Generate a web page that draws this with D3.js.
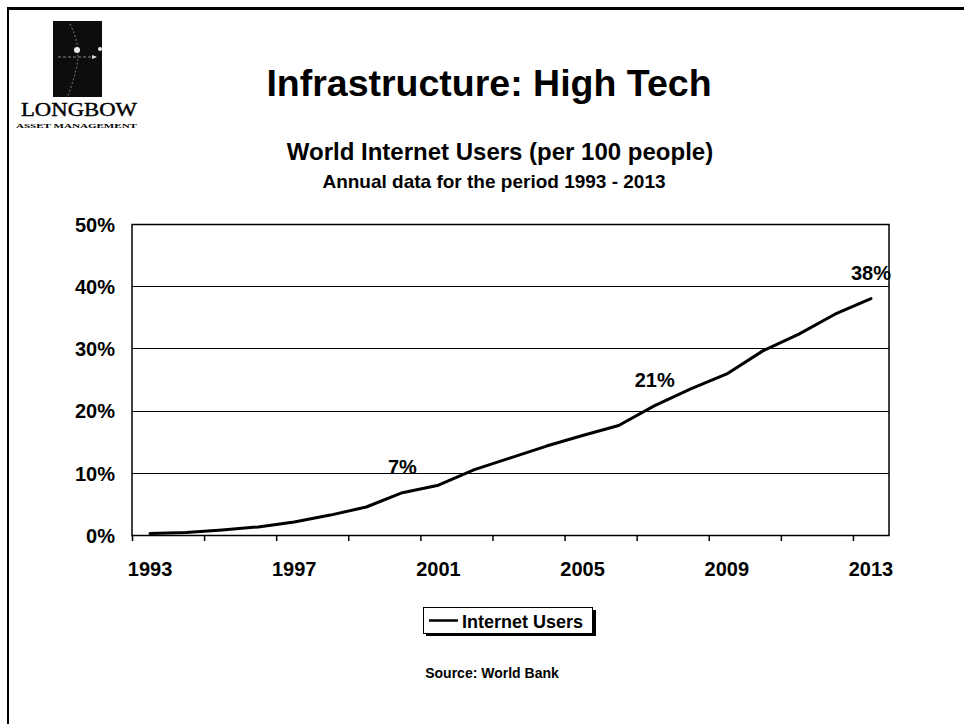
<!DOCTYPE html>
<html>
<head>
<meta charset="utf-8">
<script src="https://cdn.jsdelivr.net/npm/d3@7/dist/d3.min.js"></script>
<style>
  html, body { margin: 0; padding: 0; background: #fff; }
  svg { display: block; }
  text { font-family: "Liberation Sans", Arial, sans-serif; fill: #000; }
</style>
</head>
<body>
<svg id="chart" width="964" height="724"></svg>
<script>
// World internet users per 100 people, annual, 1993-2013
const years = [1993, 1994, 1995, 1996, 1997, 1998, 1999, 2000, 2001, 2002, 2003,
               2004, 2005, 2006, 2007, 2008, 2009, 2010, 2011, 2012, 2013];
const internetUsers = [0.25, 0.4, 0.8, 1.3, 2.1, 3.2, 4.5, 6.8, 8.0, 10.5, 12.4,
                       14.3, 16.0, 17.6, 20.8, 23.5, 25.9, 29.6, 32.3, 35.5, 38.0];
const yTicks = [0, 10, 20, 30, 40, 50];
const xLabelYears = [1993, 1997, 2001, 2005, 2009, 2013];
// points that carry a value label, with the label text
const labelledYears = [2000, 2007, 2013];
const labelTexts = ["7%", "21%", "38%"];
const seriesName = "Internet Users";

const svg = d3.select("#chart");

// page frame (top and left rules)
svg.append("line").attr("x1", 8).attr("x2", 964).attr("y1", 8.5).attr("y2", 8.5)
  .attr("stroke", "#000").attr("stroke-width", 3);
svg.append("line").attr("x1", 8).attr("x2", 8).attr("y1", 7).attr("y2", 724)
  .attr("stroke", "#000").attr("stroke-width", 2);

// company mark
const logo = svg.append("g");
logo.append("rect").attr("x", 53).attr("y", 21).attr("width", 49).attr("height", 76).attr("fill", "#0d0d0d");
logo.append("path").attr("d", "M70,24 C78,40 80,55 76,70 C73,82 70,90 68,96")
  .attr("fill", "none").attr("stroke", "#777").attr("stroke-width", 1).attr("stroke-dasharray", "2,2");
logo.append("line").attr("x1", 58).attr("x2", 98).attr("y1", 57).attr("y2", 57)
  .attr("stroke", "#888").attr("stroke-width", 1).attr("stroke-dasharray", "3,2");
logo.append("circle").attr("cx", 77).attr("cy", 50).attr("r", 3).attr("fill", "#eee");
logo.append("circle").attr("cx", 100).attr("cy", 49).attr("r", 2).attr("fill", "#eee");
logo.append("path").attr("d", "M92,55 L97,57 L92,59 Z").attr("fill", "#ddd");
logo.append("text").attr("x", 21).attr("y", 116).attr("textLength", 116).attr("lengthAdjust", "spacingAndGlyphs")
  .style("font-family", "'Liberation Serif', 'Times New Roman', serif").style("font-size", "19px")
  .style("stroke", "#000").style("stroke-width", 0.4)
  .text("LONGBOW");
logo.append("text").attr("x", 16).attr("y", 128).attr("textLength", 121).attr("lengthAdjust", "spacingAndGlyphs")
  .style("font-family", "'Liberation Serif', 'Times New Roman', serif").style("font-size", "7px").style("font-weight", "bold")
  .text("ASSET MANAGEMENT");

// titles
svg.append("text").attr("x", 489).attr("y", 96).attr("text-anchor", "middle")
  .style("font-size", "37.5px").style("font-weight", "bold").text("Infrastructure: High Tech");
svg.append("text").attr("x", 500).attr("y", 160).attr("text-anchor", "middle")
  .style("font-size", "24px").style("font-weight", "bold").text("World Internet Users (per 100 people)");
svg.append("text").attr("x", 494).attr("y", 188).attr("text-anchor", "middle")
  .style("font-size", "19px").style("font-weight", "bold").text("Annual data for the period 1993 - 2013");

// plot area
const plot = { left: 132, right: 889, top: 224, bottom: 535 };

const x = d3.scaleBand().domain(years).range([plot.left, plot.right]).padding(0);
const xEdge = d3.scaleLinear().domain([0, years.length]).range([plot.left, plot.right]);
const y = d3.scaleLinear().domain([0, 50]).range([plot.bottom, plot.top]);
const cx = yr => x(yr) + x.bandwidth() / 2;

// horizontal gridlines
svg.append("g").selectAll("line").data(yTicks.slice(1)).join("line")
  .attr("x1", plot.left).attr("x2", plot.right)
  .attr("y1", d => Math.round(y(d)) + 0.5).attr("y2", d => Math.round(y(d)) + 0.5)
  .attr("stroke", "#000").attr("stroke-width", 1.2);

// plot frame
svg.append("rect").attr("x", plot.left).attr("y", plot.top + 0.5)
  .attr("width", plot.right - plot.left).attr("height", plot.bottom - plot.top)
  .attr("fill", "none").attr("stroke", "#000").attr("stroke-width", 1.5);

// y axis labels
const yAxis = d3.axisLeft(y).tickValues(yTicks).tickFormat(d => d + "%").tickSize(0).tickPadding(17);
const gy = svg.append("g").attr("transform", `translate(${plot.left},0)`).call(yAxis);
gy.select(".domain").remove();
gy.selectAll("text").style("font-size", "20px").style("font-weight", "bold")
  .style("font-family", "'Liberation Sans', Arial, sans-serif").attr("dy", "0.36em");

// x axis tick marks every two categories
const edgeTicks = d3.range(0, years.length, 2);
const gxt = svg.append("g").attr("transform", `translate(0,${plot.bottom})`)
  .call(d3.axisBottom(xEdge).tickValues(edgeTicks).tickFormat("").tickSize(6).tickSizeOuter(0));
gxt.select(".domain").remove();
gxt.selectAll("line").attr("stroke", "#000").attr("stroke-width", 1.5);

// x axis year labels
const gx = svg.append("g").attr("transform", `translate(0,${plot.bottom})`)
  .call(d3.axisBottom(x).tickValues(xLabelYears).tickSize(0).tickPadding(27));
gx.select(".domain").remove();
gx.selectAll("text").style("font-size", "20px").style("font-weight", "bold")
  .style("font-family", "'Liberation Sans', Arial, sans-serif");

// series line
const line = d3.line().x((d, i) => cx(years[i])).y(d => y(d));
svg.append("path").datum(internetUsers).attr("d", line)
  .attr("fill", "none").attr("stroke", "#000").attr("stroke-width", 3)
  .attr("stroke-linejoin", "round").attr("stroke-linecap", "round");

// value labels
svg.append("g").selectAll("text").data(labelledYears).join("text")
  .attr("x", d => cx(d))
  .attr("y", d => y(internetUsers[years.indexOf(d)]) - 19)
  .attr("text-anchor", "middle")
  .style("font-size", "20px").style("font-weight", "bold")
  .text((d, i) => labelTexts[i]);

// legend
const lg = svg.append("g").attr("transform", "translate(423,607)");
lg.append("rect").attr("x", 3).attr("y", 3).attr("width", 170).attr("height", 26).attr("fill", "#000");
lg.append("rect").attr("x", 0.5).attr("y", 0.5).attr("width", 169).attr("height", 26)
  .attr("fill", "#fff").attr("stroke", "#000").attr("stroke-width", 1);
lg.append("line").attr("x1", 6).attr("x2", 35).attr("y1", 13.5).attr("y2", 13.5)
  .attr("stroke", "#000").attr("stroke-width", 2.5);
lg.append("text").attr("x", 39).attr("y", 20.5)
  .style("font-size", "18px").style("font-weight", "bold").text(seriesName);

// source note
svg.append("text").attr("x", 492).attr("y", 678).attr("text-anchor", "middle")
  .style("font-size", "14px").style("font-weight", "bold").text("Source: World Bank");
</script>
</body>
</html>
